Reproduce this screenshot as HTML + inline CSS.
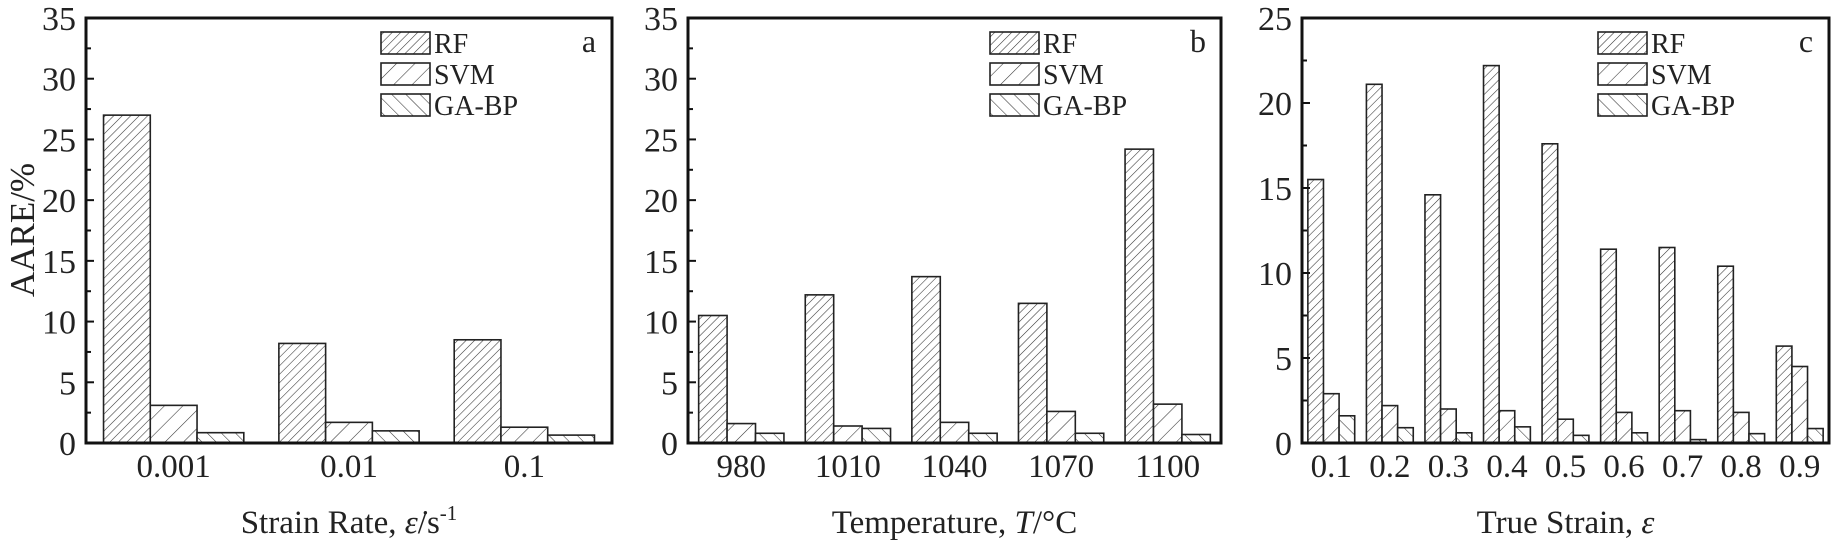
<!DOCTYPE html>
<html><head><meta charset="utf-8">
<style>
html,body{margin:0;padding:0;background:#fff;}
svg{display:block;font-family:"Liberation Serif",serif;}
</style></head>
<body>
<svg id="chart" width="1842" height="550" viewBox="0 0 1842 550" xmlns="http://www.w3.org/2000/svg">
<defs>
<pattern id="hRF" patternUnits="userSpaceOnUse" width="6" height="6" patternTransform="rotate(45)">
<rect width="6" height="6" fill="#fff"/><line x1="0" y1="0" x2="0" y2="6" stroke="#333" stroke-width="1.1"/></pattern>
<pattern id="hSVM" patternUnits="userSpaceOnUse" width="13" height="13" patternTransform="rotate(45)">
<rect width="13" height="13" fill="#fff"/><line x1="0" y1="0" x2="0" y2="13" stroke="#333" stroke-width="1.1"/></pattern>
<pattern id="hGA" patternUnits="userSpaceOnUse" width="10" height="10" patternTransform="rotate(-45)">
<rect width="10" height="10" fill="#fff"/><line x1="0" y1="0" x2="0" y2="10" stroke="#333" stroke-width="1.1"/></pattern>
</defs>
<text transform="translate(34,230) rotate(-90)" text-anchor="middle" font-size="35" fill="#222">AARE/%</text>
</svg>
<script>
const seriesNames = ["RF", "SVM", "GA-BP"];
const catsA = ["0.001", "0.01", "0.1"];
const rfA = [27, 8.2, 8.5];
const svmA = [3.1, 1.7, 1.3];
const gaA = [0.85, 1.0, 0.65];
const catsB = ["980", "1010", "1040", "1070", "1100"];
const rfB = [10.5, 12.2, 13.7, 11.5, 24.2];
const svmB = [1.6, 1.4, 1.7, 2.6, 3.2];
const gaB = [0.8, 1.2, 0.8, 0.8, 0.7];
const catsC = ["0.1", "0.2", "0.3", "0.4", "0.5", "0.6", "0.7", "0.8", "0.9"];
const rfC = [15.5, 21.1, 14.6, 22.2, 17.6, 11.4, 11.5, 10.4, 5.7];
const svmC = [2.9, 2.2, 2.0, 1.9, 1.4, 1.8, 1.9, 1.8, 4.5];
const gaC = [1.6, 0.9, 0.6, 0.95, 0.45, 0.6, 0.2, 0.55, 0.85];
const ticksAB = [0, 5, 10, 15, 20, 25, 30, 35];
const ticksC = [0, 5, 10, 15, 20, 25];

const NS = "http://www.w3.org/2000/svg";
const svg = document.getElementById("chart");
const fills = ["url(#hRF)", "url(#hSVM)", "url(#hGA)"];
function mk(tag, attrs, parent) {
  const e = document.createElementNS(NS, tag);
  for (const k in attrs) e.setAttribute(k, attrs[k]);
  (parent || svg).appendChild(e);
  return e;
}
function panel(id, x0, x1, yTop, yBot, yMax, ticks, cats, series, letter, title) {
  const g = mk("g", {});
  
  
  const ys = v => yBot - (v / yMax) * (yBot - yTop);
  const bw = (x1 - x0) / cats.length;
  const barW = bw * 0.8 / 3;
  series.forEach((vals, s) => {
    vals.forEach((v, i) => {
      const bx = x0 + i * bw + bw * 0.1 + s * barW;
      const r = mk("rect", {x: bx, y: ys(v), width: barW, height: yBot - ys(v), fill: fills[s], stroke: "#222", "stroke-width": 1.6}, g);
      
      
    });
  });
  const frame = mk("rect", {x: x0, y: yTop, width: x1 - x0, height: yBot - yTop, fill: "none", stroke: "#111", "stroke-width": 3}, g);
  
  
  ticks.forEach((t, k) => {
    const y = ys(t);
    const tl = mk("line", {x1: x0, x2: x0 + 8, y1: y, y2: y, stroke: "#111", "stroke-width": 2}, g);
    
    
    if (k < ticks.length - 1) {
      const ym = ys((t + ticks[k + 1]) / 2);
      const ml = mk("line", {x1: x0, x2: x0 + 5, y1: ym, y2: ym, stroke: "#111", "stroke-width": 2}, g);
      
      
    }
    const tx = mk("text", {x: x0 - 10, y: y + 12, "text-anchor": "end", "font-size": 34, fill: "#222"}, g);
    tx.textContent = t;
    
    
  });
  cats.forEach((c, i) => {
    const tx = mk("text", {x: x0 + (i + 0.5) * bw, y: yBot + 34, "text-anchor": "middle", "font-size": 33, fill: "#222"}, g);
    tx.textContent = c;
    
    
  });
  const xt = mk("text", {x: (x0 + x1) / 2, y: 533, "text-anchor": "middle", "font-size": 33, fill: "#222"}, g);
  xt.innerHTML = title;
  
  
  const legX = x1 - 231;
  seriesNames.forEach((n, s) => {
    const ly = 32 + s * 31;
    const lr = mk("rect", {x: legX, y: ly, width: 49, height: 22, fill: fills[s], stroke: "#222", "stroke-width": 1.6}, g);
    
    
    const lt = mk("text", {x: legX + 53, y: ly + 21, "font-size": 28, fill: "#222"}, g);
    lt.textContent = n;
    
    
  });
  const pl = mk("text", {x: x1 - 23, y: 52, "text-anchor": "middle", "font-size": 32, fill: "#222"}, g);
  pl.textContent = letter;
  
  
}
panel("a", 86, 612, 18, 443, 35, ticksAB, catsA, [rfA, svmA, gaA], "a",
  'Strain Rate, <tspan font-style="italic">ε̇</tspan>/s<tspan dy="-13" font-size="21">-1</tspan>');
panel("b", 688, 1221, 18, 443, 35, ticksAB, catsB, [rfB, svmB, gaB], "b",
  'Temperature, <tspan font-style="italic">T</tspan>/°C');
panel("c", 1302, 1829, 18, 443, 25, ticksC, catsC, [rfC, svmC, gaC], "c",
  'True Strain, <tspan font-style="italic">ε</tspan>');
</script>
</body></html>
